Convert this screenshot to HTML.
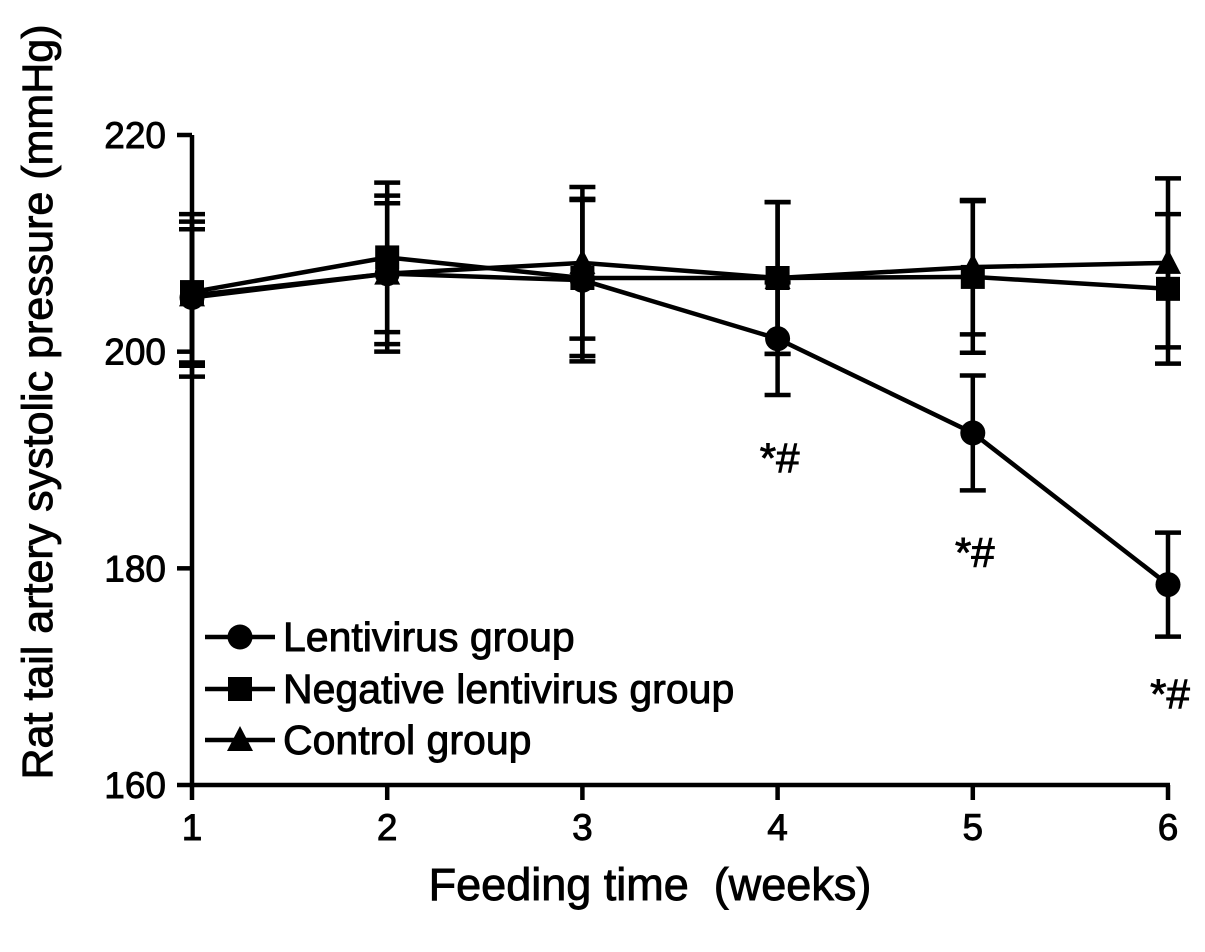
<!DOCTYPE html>
<html><head><meta charset="utf-8"><style>
body{margin:0;background:#fff}
svg{display:block;font-family:"Liberation Sans",Arial,sans-serif}
text{stroke:#000;stroke-width:0.9px;fill:#000}
</style></head><body>
<svg id="chart" width="1205" height="952">
<g id="axes"></g><g id="series"></g><g id="legend"></g>
</svg>
<script>
const weeks=[1,2,3,4,5,6];
const lentiVals=[205.0,207.2,206.6,201.2,192.5,178.5];
const lentiErr=[6.3,6.5,7.5,5.2,5.3,4.8];
const negVals=[205.5,208.7,206.8,206.8,206.9,205.8];
const negErr=[6.5,6.9,7.2,7.0,7.0,6.9];
const ctrlVals=[205.2,207.2,208.2,206.8,207.8,208.2];
const ctrlErr=[7.5,7.2,7.0,7.0,6.2,7.8];
const yTicks=[160,180,200,220];
const sigWeeks=[4,5,6];
const sigOffsets=[120,120,110];

const NS="http://www.w3.org/2000/svg";
const x0=192,x1=1168,yb=785,yt=135;
function xs(w){return x0+(w-1)*(x1-x0)/5;}
function ys(v){return yb-(v-160)*(yb-yt)/60;}
function mk(tag,attrs,parent,text){const e=document.createElementNS(NS,tag);for(const k in attrs)e.setAttribute(k,attrs[k]);if(text!==undefined)e.textContent=text;parent.appendChild(e);return e;}
const axes=document.getElementById('axes'),ser=document.getElementById('series'),leg=document.getElementById('legend');
const SW=4.5;

let e=mk('line',{x1:x0,y1:yt,x2:x0,y2:yb+2,stroke:'#000','stroke-width':SW},axes);


e=mk('line',{x1:x0-2,y1:yb,x2:x1+2,y2:yb,stroke:'#000','stroke-width':SW},axes);


yTicks.forEach(t=>{
  mk('line',{x1:x0-15,y1:ys(t),x2:x0,y2:ys(t),stroke:'#000','stroke-width':SW},axes);
  const l=mk('text',{x:166,y:ys(t)+13,'text-anchor':'end','font-size':37},axes,String(t));
  
  
});
weeks.forEach(w=>{
  mk('line',{x1:xs(w),y1:yb,x2:xs(w),y2:yb+15,stroke:'#000','stroke-width':SW},axes);
  const l=mk('text',{x:xs(w),y:yb+55,'text-anchor':'middle','font-size':37},axes,String(w));
  
  
});
e=mk('text',{x:650,y:900,'text-anchor':'middle','font-size':45},axes,'Feeding time\u00a0\u00a0(weeks)');


e=mk('text',{x:0,y:0,'text-anchor':'middle','font-size':43,transform:'translate(52,402) rotate(-90)'},axes,'Rat tail artery systolic pressure (mmHg)');



function marker(type,cx,cy,parent){
  if(type==='circle')return mk('circle',{cx:cx,cy:cy,r:12.5,fill:'#000'},parent);
  if(type==='square')return mk('rect',{x:cx-12,y:cy-12,width:24,height:24,fill:'#000'},parent);
  return mk('polygon',{points:`${cx},${cy-14} ${cx+13},${cy+11} ${cx-13},${cy+11}`,fill:'#000'},parent);
}
function drawSeries(name,vals,errs,type){
  const g=mk('g',{},ser);
  
  
  vals.forEach((v,i)=>{
    const x=xs(weeks[i]);
    mk('line',{x1:x,y1:ys(v+errs[i]),x2:x,y2:ys(v-errs[i]),stroke:'#000','stroke-width':SW},g);
    mk('line',{x1:x-13,y1:ys(v+errs[i]),x2:x+13,y2:ys(v+errs[i]),stroke:'#000','stroke-width':SW},g);
    mk('line',{x1:x-13,y1:ys(v-errs[i]),x2:x+13,y2:ys(v-errs[i]),stroke:'#000','stroke-width':SW},g);
  });
  mk('polyline',{points:vals.map((v,i)=>xs(weeks[i])+','+ys(v)).join(' '),fill:'none',stroke:'#000','stroke-width':SW},g);
  vals.forEach((v,i)=>{
    const m=marker(type,xs(weeks[i]),ys(v),g);
    
    
  });
}
drawSeries('control',ctrlVals,ctrlErr,'triangle');
drawSeries('negative-lentivirus',negVals,negErr,'square');
drawSeries('lentivirus',lentiVals,lentiErr,'circle');

sigWeeks.forEach((w,i)=>{
  const idx=weeks.indexOf(w);
  const t=mk('text',{x:xs(w)+2,y:ys(lentiVals[idx])+sigOffsets[i]+14,'text-anchor':'middle','font-size':42},ser,'*#');
  
  
});

const legItems=[['Lentivirus group','circle',637],['Negative lentivirus group','square',689],['Control group','triangle',740]];
legItems.forEach(([label,type,y])=>{
  const g=mk('g',{},leg);
  
  
  mk('line',{x1:205,y1:y,x2:275,y2:y,stroke:'#000','stroke-width':SW},g);
  marker(type,240,y,g);
  mk('text',{x:283,y:y+14,'font-size':41},g,label);
});
</script>
</body></html>
